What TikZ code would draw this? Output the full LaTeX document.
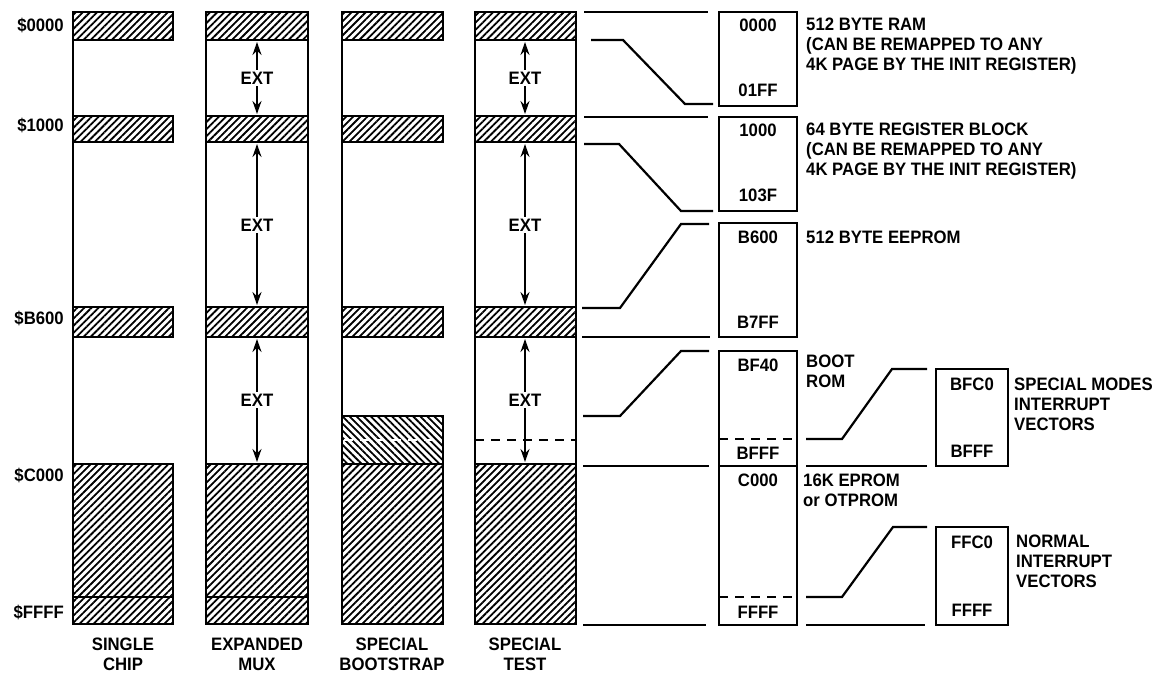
\documentclass[tikz,border=0pt]{standalone}
\usepackage{fontspec}
\setmainfont{Liberation Sans}[FakeStretch=0.93]
\usetikzlibrary{arrows.meta, positioning, patterns.meta}

\begin{document}
\begin{tikzpicture}[x=1pt, y=-1pt,
    box/.style={draw, line width=2.5pt},
    hatch/.style={pattern={Lines[angle=45, distance=5pt, line width=1.8pt]}},
    backhatch/.style={pattern={Lines[angle=-45, distance=5pt, line width=1.8pt]}},
    link/.style={line width=2.2pt},
    ext/.style={line width=1.8pt, -{Stealth[length=13pt, width=9pt]}},
    lbl/.style={font=\fontsize{18}{20}\selectfont\bfseries, inner sep=0pt},
    mapbox/.style={draw, line width=2.5pt, anchor=north west, inner sep=0pt, outer sep=0pt}]
    \useasboundingbox (0,0) rectangle (1163,675);

    % Hatched bands shared by all four modes
    \foreach \xl/\xr in {73/173, 206/308, 342/443, 475/576} {
        \draw[box, hatch] (\xl,12) rectangle (\xr,40);
        \draw[box, hatch] (\xl,116) rectangle (\xr,142);
        \draw[box, hatch] (\xl,307) rectangle (\xr,337);
    }

    % Single chip
    \draw[box, hatch] (73,464) rectangle (173,624);
    \draw[box] (73,597) -- (173,597);
    \draw[box] (73,12) -- (73,624);

    % Expanded mux
    \draw[box, hatch] (206,464) rectangle (308,624);
    \draw[box] (206,597) -- (308,597);
    \draw[box] (206,12) rectangle (308,624);

    % Special bootstrap
    \draw[box, backhatch] (342,416) rectangle (443,464);
    \draw[white, line width=1.6pt, dash pattern=on 9pt off 7pt] (344,440) -- (441,440);
    \draw[box, hatch] (342,464) rectangle (443,624);
    \draw[box] (342,12) -- (342,624);

    % Special test
    \draw[box, hatch] (475,464) rectangle (576,624);
    \draw[line width=2pt, dash pattern=on 9pt off 7pt] (475,440) -- (576,440);
    \draw[box] (475,12) rectangle (576,624);

    % EXT arrows
    \foreach \cx/\col in {257/mux, 525/test} {
        \node[lbl] (\col-a) at (\cx,78) {EXT};
        \node[lbl] (\col-b) at (\cx,225) {EXT};
        \node[lbl] (\col-c) at (\cx,400) {EXT};
        \coordinate (\col-a1) at (\cx,42);  \coordinate (\col-a2) at (\cx,114);
        \coordinate (\col-b1) at (\cx,144); \coordinate (\col-b2) at (\cx,305);
        \coordinate (\col-c1) at (\cx,339); \coordinate (\col-c2) at (\cx,462);
        \draw[ext] ([yshift=2pt]\col-a.north) -- (\col-a1);
        \draw[ext] ([yshift=-2pt]\col-a.south) -- (\col-a2);
        \draw[ext] ([yshift=2pt]\col-b.north) -- (\col-b1);
        \draw[ext] ([yshift=-2pt]\col-b.south) -- (\col-b2);
        \draw[ext] ([yshift=2pt]\col-c.north) -- (\col-c1);
        \draw[ext] ([yshift=-2pt]\col-c.south) -- (\col-c2);
    }

    % Addresses on the left
    \node[lbl, anchor=east] (a0000) at (64,25) {\$0000};
    \node[lbl, anchor=east] (a1000) at (64,125) {\$1000};
    \node[lbl, anchor=east] (aB600) at (64,318) {\$B600};
    \node[lbl, anchor=east] (aC000) at (64,475) {\$C000};
    \node[lbl, anchor=east] (aFFFF) at (64,612) {\$FFFF};

    % Mode names
    \node[lbl, align=center] (single) at (123,654) {SINGLE\\CHIP};
    \node[lbl, align=center] (mux) at (257,654) {EXPANDED\\MUX};
    \node[lbl, align=center] (boots) at (392,654) {SPECIAL\\BOOTSTRAP};
    \node[lbl, align=center] (test) at (525,654) {SPECIAL\\TEST};

    % Expanded blocks
    \node[mapbox, minimum width=78pt, minimum height=94pt] (ram) at (719,12) {};
    \node[mapbox, minimum width=78pt, minimum height=94pt] (reg) at (719,117) {};
    \node[mapbox, minimum width=78pt, minimum height=114pt] (eep) at (719,223) {};
    \node[mapbox, minimum width=78pt, minimum height=115pt] (boot) at (719,351) {};
    \node[mapbox, minimum width=78pt, minimum height=159pt] (eprom) at (719,466) {};
    \node[mapbox, minimum width=72pt, minimum height=97pt] (spv) at (936,369) {};
    \node[mapbox, minimum width=72pt, minimum height=98pt] (nv) at (936,527) {};

    % Start and end addresses
    \node[lbl, below=7pt of ram.north] {0000};
    \node[lbl, above=9pt of ram.south] {01FF};
    \node[lbl, below=7pt of reg.north] {1000};
    \node[lbl, above=9pt of reg.south] {103F};
    \node[lbl, below=8pt of eep.north] {B600};
    \node[lbl, above=8pt of eep.south] {B7FF};
    \node[lbl, below=8pt of boot.north] {BF40};
    \node[lbl, above=6pt of boot.south] {BFFF};
    \node[lbl, below=8pt of eprom.north] {C000};
    \node[lbl, above=6pt of eprom.south] {FFFF};
    \node[lbl, below=9pt of spv.north] {BFC0};
    \node[lbl, above=8pt of spv.south] {BFFF};
    \node[lbl, below=9pt of nv.north] {FFC0};
    \node[lbl, above=8pt of nv.south] {FFFF};
    \draw[line width=2pt, dash pattern=on 9pt off 7pt] (boot.west |- 0,439) -- (boot.east |- 0,439);
    \draw[line width=2pt, dash pattern=on 9pt off 7pt] (eprom.west |- 0,597) -- (eprom.east |- 0,597);

    % Descriptions
    \node[lbl, anchor=north west, align=left, xshift=9pt, yshift=-6pt] at (ram.north east)
        {512 BYTE RAM\\(CAN BE REMAPPED TO ANY\\4K PAGE BY THE INIT REGISTER)};
    \node[lbl, anchor=north west, align=left, xshift=9pt, yshift=-6pt] at (reg.north east)
        {64 BYTE REGISTER BLOCK\\(CAN BE REMAPPED TO ANY\\4K PAGE BY THE INIT REGISTER)};
    \node[lbl, anchor=north west, align=left, xshift=9pt, yshift=-8pt] at (eep.north east) {512 BYTE EEPROM};
    \node[lbl, anchor=north west, align=left, xshift=9pt, yshift=-4pt] at (boot.north east) {BOOT\\ROM};
    \node[lbl, anchor=north west, align=left, xshift=6pt, yshift=-8pt] at (eprom.north east) {16K EPROM\\or OTPROM};
    \node[lbl, anchor=north west, align=left, xshift=6pt, yshift=-9pt] at (spv.north east) {SPECIAL MODES\\INTERRUPT\\VECTORS};
    \node[lbl, anchor=north west, align=left, xshift=8pt, yshift=-8pt] at (nv.north east) {NORMAL\\INTERRUPT\\VECTORS};

    % Links from the test column to the blocks
    \coordinate (t0) at (584,12);
    \coordinate (t1) at (591,40);
    \coordinate (t2) at (584,117);
    \coordinate (t3) at (584,144);
    \coordinate (t4) at (582,308);
    \coordinate (t5) at (582,337);
    \coordinate (t6) at (583,416);
    \coordinate (t7) at (583,466);
    \coordinate (t8) at (583,625);
    \draw[link] (t0) -- ([xshift=-11pt]ram.north west);
    \draw[link] (t1) -- ++(32,0) -- ([xshift=-34pt, yshift=2pt]ram.south west) -- ([xshift=-6pt, yshift=2pt]ram.south west);
    \draw[link] (t2) -- ([xshift=-11pt]reg.north west);
    \draw[link] (t3) -- ++(35,0) -- ([xshift=-38pt]reg.south west) -- ([xshift=-6pt]reg.south west);
    \draw[link] (t4) -- ++(38,0) -- ([xshift=-38pt, yshift=-1pt]eep.north west) -- ([xshift=-10pt, yshift=-1pt]eep.north west);
    \draw[link] (t5) -- ([xshift=-9pt]eep.south west);
    \draw[link] (t6) -- ++(37,0) -- ([xshift=-38pt]boot.north west) -- ([xshift=-10pt]boot.north west);
    \draw[link] (t7) -- ([xshift=-10pt]eprom.north west);
    \draw[link] (t8) -- ([xshift=-13pt]eprom.south west);

    % Links from the boot and eprom blocks to the vectors
    \draw[link] ([xshift=9pt]boot.east |- 0,439) -- ++(36,0) -- ([xshift=-44pt]spv.north west) -- ([xshift=-9pt]spv.north west);
    \draw[link] ([xshift=9pt]boot.south east) -- ([xshift=-9pt]spv.south west);
    \draw[link] ([xshift=9pt]eprom.east |- 0,597) -- ++(36,0) -- ([xshift=-43pt]nv.north west) -- ([xshift=-9pt]nv.north west);
    \draw[link] ([xshift=9pt]eprom.south east) -- ([xshift=-11pt]nv.south west);
\end{tikzpicture}
\end{document}
